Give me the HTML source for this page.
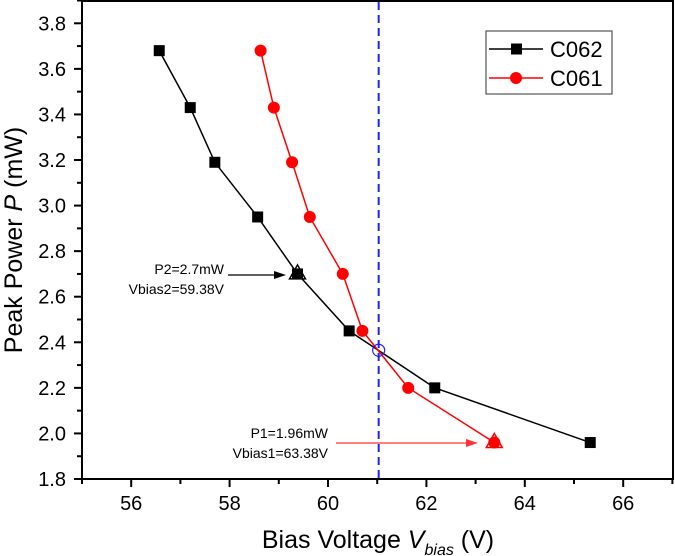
<!DOCTYPE html>
<html><head><meta charset="utf-8"><style>
body{margin:0;background:#fff}
svg{display:block;font-family:"Liberation Sans",Arial,sans-serif}
</style></head><body>
<svg id="chart" width="675" height="556" viewBox="0 0 675 556"></svg>
<script>
const xTicks=[56,58,60,62,64,66];
const yTicks=[1.8,2.0,2.2,2.4,2.6,2.8,3.0,3.2,3.4,3.6,3.8];
const c062V=[56.57,57.2,57.7,58.57,59.38,60.43,62.17,65.33];
const c062P=[3.68,3.43,3.19,2.95,2.70,2.45,2.20,1.96];
const c061V=[58.63,58.9,59.27,59.63,60.3,60.7,61.63,63.38];
const c061P=[3.68,3.43,3.19,2.95,2.70,2.45,2.20,1.96];
const crossV=[61.03];const crossP=[2.365];
const NS="http://www.w3.org/2000/svg";
const svg=document.getElementById('chart');
const L=82,R=673,T=0,B=479;
const X=v=>131.2+(v-56)*49.2;
const Y=p=>479-(p-1.8)*227.85;
function el(t,a,parent){const e=document.createElementNS(NS,t);for(const k in a)e.setAttribute(k,a[k]);(parent||svg).appendChild(e);return e;}
let f=el('rect',{x:L,y:T+1,width:R-L,height:B-T-1,fill:'none',stroke:'#000','stroke-width':2});


for(let v=55;v<=67;v+=1){const major=v%2===0;const ln=el('line',{x1:X(v),x2:X(v),y1:B,y2:B+(major?8:5),stroke:'#000','stroke-width':2});

}
xTicks.forEach(v=>{const t=el('text',{x:X(v),y:B+31,'text-anchor':'middle','font-size':20});t.textContent=v;

});
for(let i=0;i<=21;i++){const p=1.8+i*0.1;const major=i%2===0;const ln=el('line',{x1:L,x2:L-(major?8:5),y1:Y(p),y2:Y(p),stroke:'#000','stroke-width':2});

}
yTicks.forEach(p=>{const t=el('text',{x:L-16,y:Y(p)+7,'text-anchor':'end','font-size':20});t.textContent=p.toFixed(1);

});
let xt=el('text',{x:378,y:548,'text-anchor':'middle','font-size':25});
xt.innerHTML='Bias Voltage <tspan font-style="italic">V</tspan><tspan font-style="italic" font-size="16" dy="7">bias</tspan><tspan dy="-7"> (V)</tspan>';


let yt=el('text',{x:0,y:0,'text-anchor':'middle','font-size':25,transform:'translate(22,240) rotate(-90)'});
yt.innerHTML='Peak Power <tspan font-style="italic">P</tspan> (mW)';


let dl=el('line',{x1:X(crossV[0]),x2:X(crossV[0]),y1:T+2,y2:B,stroke:'#2222ee','stroke-width':2,'stroke-dasharray':'8,5'});


function series(V,P,color,shape,name){
 const pl=el('polyline',{points:V.map((v,i)=>X(v)+','+Y(P[i])).join(' '),fill:'none',stroke:color,'stroke-width':1.5});
 
 
 V.forEach((v,i)=>{let m;
  if(shape==='sq')m=el('rect',{x:X(v)-5.5,y:Y(P[i])-5.5,width:11,height:11,fill:color});
  else m=el('circle',{cx:X(v),cy:Y(P[i]),r:6,fill:color});
  
  });
}
series(c062V,c062P,'#000','sq','c062');
series(c061V,c061P,'#f00','ci','c061');
function tri(v,p,color){const x=X(v),y=Y(p);const t=el('polygon',{points:`${x},${y-9} ${x-8},${y+5} ${x+8},${y+5}`,fill:'none',stroke:color,'stroke-width':1.5});

}
tri(59.38,2.70,'#000');tri(63.38,1.96,'#f00');
let cc=el('circle',{cx:X(crossV[0]),cy:Y(crossP[0]),r:6,fill:'none',stroke:'#2222ee','stroke-width':1.2});


function ann(lines,xEnd,y0,ax1,ax2,ay,color,name){
 lines.forEach((s,i)=>{const t=el('text',{x:xEnd,y:y0+i*20,'text-anchor':'end','font-size':14});t.textContent=s;
 
 });
 const a=el('line',{x1:ax1,x2:ax2-8,y1:ay,y2:ay,stroke:color,'stroke-width':1.2});
 
 
 const h=el('polygon',{points:`${ax2},${ay} ${ax2-12},${ay-4} ${ax2-12},${ay+4}`,fill:color});
 
 
}
ann(['P2=2.7mW','Vbias2=59.38V'],224,274,228,286,275,'#000','p2-annotation');
ann(['P1=1.96mW','Vbias1=63.38V'],328,438,336,478,443,'#f33','p1-annotation');
const g=el('g',{});


el('rect',{x:486,y:31,width:126,height:63,fill:'#fff',stroke:'#555','stroke-width':1.2},g);
[['C062','#000','sq',49],['C061','#f00','ci',78]].forEach(([n,c,s,y])=>{
 const e=el('g',{},g);
 
 
 el('line',{x1:489,x2:543,y1:y,y2:y,stroke:c,'stroke-width':1.5},e);
 if(s==='sq')el('rect',{x:511,y:y-5.5,width:11,height:11,fill:c},e);else el('circle',{cx:516,cy:y,r:6,fill:c},e);
 const t=el('text',{x:550,y:y+8,'font-size':22},e);t.textContent=n;
});
</script>
</body></html>
